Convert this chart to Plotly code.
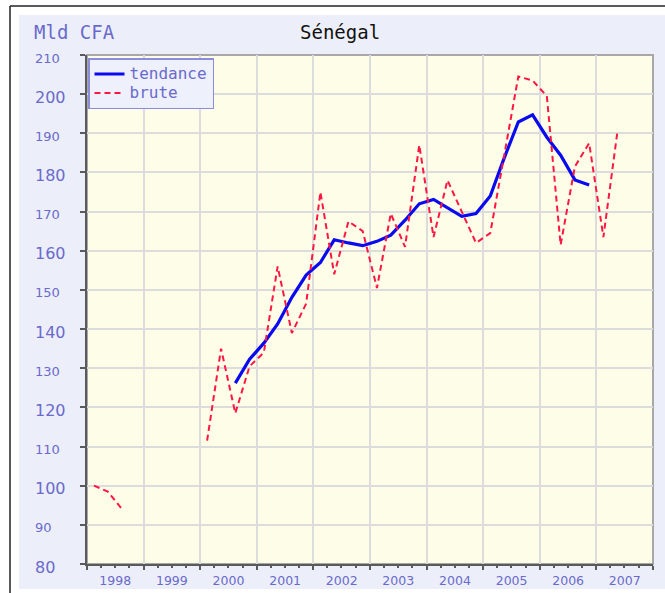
import plotly.graph_objects as go

# Quarterly series, 1998-2007
years = list(range(1998, 2008))
quarters = [1, 2, 3, 4]

brute = [
    100.0, 98.5, 94.0, None,
    None, None, None, None,
    111.5, 135.0, 118.5, 130.5,
    134.0, 156.0, 139.0, 146.5,
    175.0, 154.0, 167.5, 165.0,
    150.5, 169.5, 161.0, 187.0,
    163.5, 178.0, 170.0, 162.0,
    164.5, 184.0, 204.5, 203.5,
    199.5, 161.5, 181.5, 187.5,
    163.5, 190.0, None, None,
]

tendance = [
    None, None, None, None,
    None, None, None, None,
    None, None, 126.2, 132.3,
    136.4, 141.3, 148.1, 153.8,
    157.0, 162.8, 162.0, 161.3,
    162.4, 164.0, 167.8, 172.0,
    173.1, 171.0, 168.8, 169.5,
    174.0, 183.6, 192.9, 194.7,
    189.0, 184.4, 178.1, 176.8,
    None, None, None, None,
]

y_ticks = list(range(80, 211, 10))

unit_label = "Mld CFA"
title_text = "Sénégal"

# Each quarter is plotted at its middle month
dates = [f"{y}-{3 * q - 1:02d}-15" for y in years for q in quarters]

W, H = 665, 593
L, R, T, B = 87, 12, 55, 29
pw, ph = W - L - R, H - T - B


def px(x):
    return (x - L) / pw


def py(y):
    return (H - B - y) / ph


label_color = "#6A6ACC"


def legend_name(s):
    return f'<span style="font-size:16px">{s}</span>'


fig = go.Figure()
fig.add_trace(go.Scatter(
    x=dates, y=tendance, name=legend_name("tendance"), mode="lines",
    line=dict(color="#0A0AF0", width=3.2),
))
fig.add_trace(go.Scatter(
    x=dates, y=brute, name=legend_name("brute"), mode="lines",
    line=dict(color="#FF1744", width=2, dash="6px,4px"),
))

shapes = [
    # outer panel
    dict(type="rect", xref="paper", yref="paper", x0=px(19), x1=px(700),
         y0=py(589), y1=py(15), fillcolor="#ECEFF9", line=dict(width=0),
         layer="below"),
    # frame lines
    dict(type="line", xref="paper", yref="paper", x0=px(10), x1=px(10),
         y0=py(6), y1=py(620), line=dict(color="#222222", width=1.5),
         layer="below"),
    dict(type="line", xref="paper", yref="paper", x0=px(10), x1=px(700),
         y0=py(6), y1=py(6), line=dict(color="#222222", width=1.5),
         layer="below"),
    # plotting area
    dict(type="rect", xref="paper", yref="paper", x0=0, x1=1, y0=0, y1=1,
         fillcolor="#FEFDE7", line=dict(color="#A8A8A8", width=2),
         layer="below"),
]

annotations = [
    dict(text=unit_label, xref="paper", yref="paper", x=px(32), y=py(32),
         xanchor="left", yanchor="middle", showarrow=False,
         font=dict(family="DejaVu Sans Mono", size=19, color=label_color)),
    dict(text=title_text, xref="paper", yref="paper", x=px(340), y=py(32),
         xanchor="center", yanchor="middle", showarrow=False,
         font=dict(family="DejaVu Sans Mono", size=19, color="#111111")),
]
for i, v in enumerate(y_ticks):
    big = (i % 2 == 0)
    annotations.append(dict(
        text=str(v), xref="paper", yref="y", x=px(33), y=v, yshift=-3,
        xanchor="left", yanchor="middle", showarrow=False,
        font=dict(family="DejaVu Sans", size=16 if big else 13,
                  color=label_color)))

fig.update_layout(
    width=W, height=H, autosize=False,
    margin=dict(l=L, r=R, t=T, b=B, pad=0),
    paper_bgcolor="white",
    plot_bgcolor="rgba(0,0,0,0)",
    shapes=shapes,
    annotations=annotations,
    showlegend=True,
    legend=dict(
        x=px(88), y=py(58), xanchor="left", yanchor="top",
        bgcolor="#EEF0FB", bordercolor="#8C8CDC", borderwidth=1.5,
        font=dict(family="DejaVu Sans Mono", size=12, color=label_color),
        tracegroupgap=0, itemwidth=30,
    ),
    xaxis=dict(
        type="date", automargin=False,
        range=["1998-01-01", "2008-01-01"],
        tick0="1998-01-01", dtick="M12", tickformat="%Y",
        ticklabelmode="period",
        showgrid=True, gridcolor="#DCDCDC", gridwidth=1.5,
        showline=True, linecolor="#5A5A5A", linewidth=2,
        ticks="outside", ticklen=4, tickcolor="#5A5A5A", tickwidth=1.5,
        minor=dict(dtick="M3", ticks="outside", ticklen=2,
                   tickcolor="#5A5A5A", showgrid=False),
        tickfont=dict(family="DejaVu Sans", size=12.5, color=label_color),
        zeroline=False,
    ),
    yaxis=dict(
        automargin=False,
        range=[80, 210], tickvals=y_ticks, showticklabels=False,
        showgrid=True, gridcolor="#DCDCDC", gridwidth=1.5,
        showline=True, linecolor="#5A5A5A", linewidth=2,
        ticks="outside", ticklen=5, tickcolor="#5A5A5A", tickwidth=1.5,
        zeroline=False,
    ),
)

fig.write_html("out.html")
